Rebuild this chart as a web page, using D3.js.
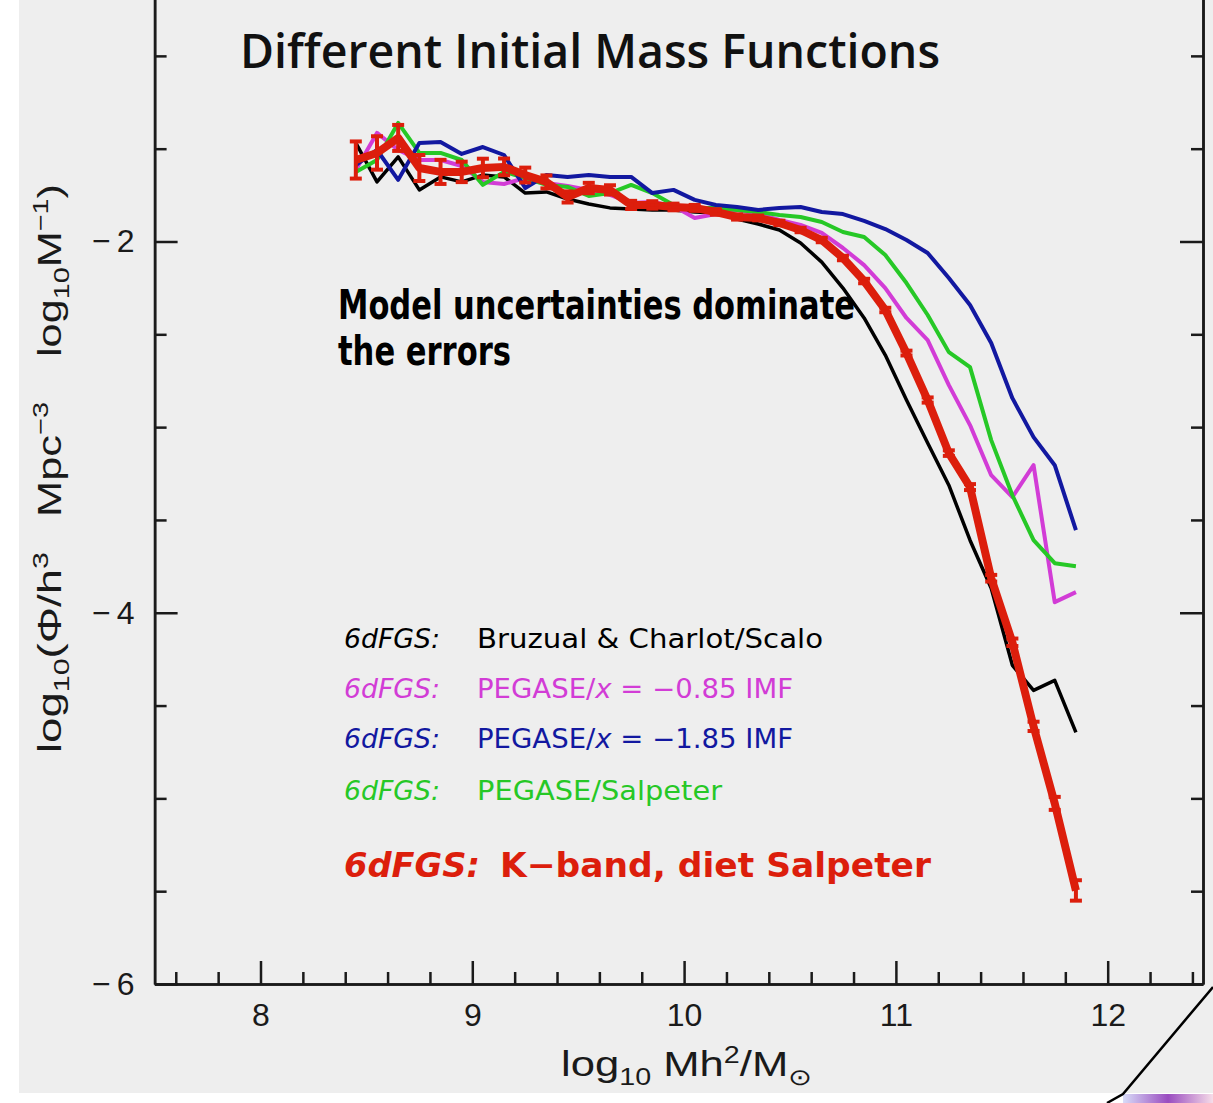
<!DOCTYPE html>
<html>
<head>
<meta charset="utf-8">
<script src="https://cdn.jsdelivr.net/npm/d3@7"></script>
<style>
  html, body { margin: 0; padding: 0; background: #fff; }
  svg { display: block; }
  text { font-family: "Liberation Sans", Arial, sans-serif; }
</style>
</head>
<body>
<svg id="chart" width="1213" height="1103"></svg>
<script>
// 6dFGS stellar mass function for different IMFs
var logMass = [8.45, 8.55, 8.65, 8.75, 8.85, 8.95, 9.05, 9.15, 9.25, 9.35,
  9.45, 9.55, 9.65, 9.75, 9.85, 9.95, 10.05, 10.15, 10.25, 10.35,
  10.45, 10.55, 10.65, 10.75, 10.85, 10.95, 11.05, 11.15, 11.25, 11.35,
  11.45, 11.55, 11.65, 11.75, 11.85];

var phiKband = [-1.561, -1.523, -1.442, -1.604, -1.625, -1.625, -1.604, -1.598, -1.642, -1.679,
  -1.760, -1.712, -1.722, -1.803, -1.803, -1.814, -1.819, -1.841, -1.868, -1.873,
  -1.900, -1.938, -1.992, -2.089, -2.213, -2.369, -2.601, -2.854, -3.140, -3.323,
  -3.814, -4.159, -4.612, -5.027, -5.496];
var errKband = [0.10, 0.09, 0.07, 0.07, 0.065, 0.055, 0.05, 0.045, 0.04, 0.035,
  0.03, 0.028, 0.025, 0.022, 0.02, 0.018, 0.016, 0.015, 0.014, 0.013,
  0.012, 0.012, 0.012, 0.012, 0.012, 0.012, 0.013, 0.014, 0.015, 0.016,
  0.018, 0.02, 0.025, 0.035, 0.055];

var phiBruzual = [-1.469, -1.679, -1.544, -1.722, -1.652, -1.679, -1.642, -1.652, -1.739, -1.733,
  -1.771, -1.798, -1.819, -1.825, -1.830, -1.830, -1.841, -1.846, -1.879, -1.906,
  -1.938, -2.008, -2.111, -2.251, -2.412, -2.612, -2.854, -3.086, -3.313, -3.609,
  -3.868, -4.283, -4.418, -4.364, -4.644];
var phiPegase085 = [-1.615, -1.415, -1.507, -1.561, -1.561, -1.593, -1.679, -1.690, -1.658, -1.685,
  -1.701, -1.722, -1.749, -1.792, -1.787, -1.809, -1.873, -1.852, -1.830, -1.852,
  -1.884, -1.911, -1.954, -2.035, -2.127, -2.251, -2.412, -2.531, -2.774, -2.989,
  -3.259, -3.377, -3.205, -3.943, -3.889];
var phiPegase185 = [-1.588, -1.507, -1.668, -1.469, -1.464, -1.528, -1.491, -1.534, -1.712, -1.642,
  -1.652, -1.642, -1.652, -1.652, -1.739, -1.722, -1.776, -1.803, -1.814, -1.830,
  -1.819, -1.814, -1.841, -1.852, -1.889, -1.933, -1.992, -2.062, -2.197, -2.342,
  -2.547, -2.844, -3.054, -3.205, -3.555];
var phiPegaseSalp = [-1.625, -1.561, -1.361, -1.523, -1.523, -1.561, -1.695, -1.625, -1.658, -1.695,
  -1.706, -1.755, -1.739, -1.695, -1.739, -1.803, -1.819, -1.819, -1.830, -1.841,
  -1.857, -1.868, -1.895, -1.949, -1.976, -2.073, -2.224, -2.396, -2.596, -2.677,
  -3.070, -3.367, -3.609, -3.733, -3.749];

// legend rows (model curves), in the order shown
var modelSeries = [phiBruzual, phiPegase085, phiPegase185, phiPegaseSalp];
var modelNames = ["Bruzual & Charlot/Scalo", "PEGASE/x = \u22120.85  IMF", "PEGASE/x = \u22121.85  IMF", "PEGASE/Salpeter"];
var modelColors = ["#000000", "#d23cd6", "#1218a0", "#26c826"];
var kbandName = "K\u2212band,  diet Salpeter";
var kbandColor = "#dc1e0c";
var surveyName = "6dFGS:";

var xMajorTicks = [8, 9, 10, 11, 12];
var xMinorTicks = [7.6, 7.8, 8.2, 8.4, 8.6, 8.8, 9.2, 9.4, 9.6, 9.8, 10.2, 10.4, 10.6, 10.8,
  11.2, 11.4, 11.6, 11.8, 12.2, 12.4];
var yMajorTicks = [-6, -4, -2];
var yMinorTicks = [-5.5, -5, -4.5, -3.5, -3, -2.5, -1.5, -1];

var svg = d3.select("#chart");

// slide background
svg.append("rect").attr("x", 19).attr("y", 0).attr("width", 1194).attr("height", 1093)
  .attr("fill", "#eeeeee");

var x = d3.scaleLinear().domain([7.5, 12.45]).range([154.6, 1203]);
var y = d3.scaleLinear().domain([-6, -2]).range([984, 241.5]);
var yTop = -0.5;

// axes
function styleAxis(g) {
  g.selectAll(".domain").attr("stroke", "#1a1a1a").attr("stroke-width", 2.5);
  g.selectAll(".tick line").attr("stroke", "#1a1a1a").attr("stroke-width", 2.5);
  g.selectAll(".tick text").attr("fill", "#1a1a1a")
    .style("font-family", "'Liberation Sans', Arial, sans-serif").style("font-size", "32px");
}

var yFull = d3.scaleLinear().domain([-6, yTop]).range([y(-6), y(yTop)]);
var intFormat = d3.format("d");

svg.append("g").attr("transform", "translate(" + x(7.5) + ",0)")
  .call(d3.axisLeft(yFull).tickValues(yMinorTicks).tickSize(-12).tickSizeOuter(0).tickFormat(""))
  .call(styleAxis);
svg.append("g").attr("transform", "translate(" + x(7.5) + ",0)")
  .call(d3.axisLeft(yFull).tickValues(yMajorTicks).tickSize(-23).tickSizeOuter(0).tickPadding(20)
    .tickFormat(intFormat))
  .call(styleAxis)
  .selectAll(".tick text").attr("letter-spacing", "6px").attr("dx", 6);

svg.append("g").attr("transform", "translate(" + x(12.45) + ",0)")
  .call(d3.axisRight(yFull).tickValues(yMinorTicks).tickSize(-12).tickSizeOuter(0).tickFormat(""))
  .call(styleAxis);
svg.append("g").attr("transform", "translate(" + x(12.45) + ",0)")
  .call(d3.axisRight(yFull).tickValues(yMajorTicks).tickSize(-23).tickSizeOuter(0).tickFormat(""))
  .call(styleAxis);

svg.append("g").attr("transform", "translate(0," + y(-6) + ")")
  .call(d3.axisBottom(x).tickValues(xMinorTicks).tickSize(-12).tickSizeOuter(0).tickFormat(""))
  .call(styleAxis);
svg.append("g").attr("transform", "translate(0," + y(-6) + ")")
  .call(d3.axisBottom(x).tickValues(xMajorTicks).tickSize(-23).tickSizeOuter(0).tickPadding(19)
    .tickFormat(intFormat))
  .call(styleAxis);

// curves
var line = d3.line()
  .x(function(d, i) { return x(logMass[i]); })
  .y(function(d) { return y(d); });

var drawOrder = [0, 1, 3, 2];
drawOrder.forEach(function(k) {
  svg.append("path").datum(modelSeries[k])
    .attr("d", line)
    .attr("fill", "none")
    .attr("stroke", modelColors[k])
    .attr("stroke-width", k === 0 ? 3.5 : 4)
    .attr("stroke-linejoin", "round");
});

svg.append("path").datum(phiKband)
  .attr("d", line)
  .attr("fill", "none")
  .attr("stroke", kbandColor)
  .attr("stroke-width", 8)
  .attr("stroke-linejoin", "round");

var bars = svg.append("g").attr("stroke", kbandColor).attr("stroke-width", 4);
bars.selectAll("line.bar").data(phiKband).enter().append("line")
  .attr("class", "bar")
  .attr("x1", function(d, i) { return x(logMass[i]); })
  .attr("x2", function(d, i) { return x(logMass[i]); })
  .attr("y1", function(d, i) { return y(d - errKband[i]); })
  .attr("y2", function(d, i) { return y(d + errKband[i]); });
[1, -1].forEach(function(s) {
  bars.selectAll("line.cap" + s).data(phiKband).enter().append("line")
    .attr("x1", function(d, i) { return x(logMass[i]) - 6; })
    .attr("x2", function(d, i) { return x(logMass[i]) + 6; })
    .attr("y1", function(d, i) { return y(d + s * errKband[i]); })
    .attr("y2", function(d, i) { return y(d + s * errKband[i]); });
});

// title
svg.append("text").attr("x", 240).attr("y", 68)
  .attr("textLength", 700).attr("lengthAdjust", "spacingAndGlyphs")
  .style("font-family", "'Open Sans', 'DejaVu Sans', sans-serif")
  .style("font-weight", 600).style("font-size", "47px").attr("fill", "#111")
  .text("Different Initial Mass Functions");

// annotation
var note = ["Model uncertainties dominate", "the errors"];
var noteLen = [517, 173];
note.forEach(function(t, i) {
  svg.append("text").attr("x", 338).attr("y", 319 + i * 46)
    .attr("textLength", noteLen[i]).attr("lengthAdjust", "spacingAndGlyphs")
    .style("font-family", "'DejaVu Sans', sans-serif").style("font-stretch", "condensed")
    .style("font-weight", "bold").style("font-size", "40px").attr("fill", "#000")
    .text(t);
});

// legend
var legendY = [648, 698, 748, 800];
var legendLen = [346, 316, 316, 245];
modelNames.forEach(function(name, i) {
  svg.append("text").attr("x", 344).attr("y", legendY[i])
    .attr("textLength", 96).attr("lengthAdjust", "spacingAndGlyphs")
    .style("font-family", "'DejaVu Sans', sans-serif").style("font-style", "italic")
    .style("font-size", "26px").attr("fill", modelColors[i])
    .text(surveyName);
  var t = svg.append("text").attr("x", 477).attr("y", legendY[i])
    .attr("textLength", legendLen[i]).attr("lengthAdjust", "spacingAndGlyphs")
    .style("font-family", "'DejaVu Sans', sans-serif")
    .style("font-size", "26px").attr("fill", modelColors[i]);
  var parts = name.split("/x");
  if (parts.length > 1) {
    t.append("tspan").text(parts[0] + "/");
    t.append("tspan").style("font-style", "italic").text("x");
    t.append("tspan").text(parts[1]);
  } else {
    t.text(name);
  }
});

svg.append("text").attr("x", 344).attr("y", 877)
  .attr("textLength", 136).attr("lengthAdjust", "spacingAndGlyphs")
  .style("font-family", "'DejaVu Sans', sans-serif").style("font-style", "italic")
  .style("font-weight", 600).style("font-size", "34px").attr("fill", kbandColor)
  .text(surveyName);
svg.append("text").attr("x", 500).attr("y", 877)
  .attr("textLength", 431).attr("lengthAdjust", "spacingAndGlyphs")
  .style("font-family", "'DejaVu Sans', sans-serif")
  .style("font-weight", 600).style("font-size", "34px").attr("fill", kbandColor)
  .text(kbandName);

// axis titles
var xt = svg.append("text").attr("x", 561).attr("y", 1076)
  .attr("textLength", 251).attr("lengthAdjust", "spacingAndGlyphs")
  .style("font-size", "35px").attr("fill", "#1a1a1a");
xt.append("tspan").text("log");
xt.append("tspan").attr("dy", 9).style("font-size", "23px").text("10");
xt.append("tspan").attr("dy", -9).text(" Mh");
xt.append("tspan").attr("dy", -13).style("font-size", "23px").text("2");
xt.append("tspan").attr("dy", 13).text("/M");
xt.append("tspan").attr("dy", 9).style("font-size", "23px").text("\u2299");

function yTitle(startY, len, pieces) {
  var t = svg.append("text")
    .attr("transform", "translate(61," + startY + ") rotate(-90)")
    .attr("textLength", len).attr("lengthAdjust", "spacingAndGlyphs")
    .style("font-size", "33px").attr("fill", "#1a1a1a");
  pieces.forEach(function(p) {
    var s = t.append("tspan").text(p[0]);
    if (p[1]) s.attr("dy", p[1]);
    if (p[2]) s.style("font-size", p[2]);
  });
}
yTitle(753, 201, [["log"], ["10", 8, "22px"], ["(\u03A6/h", -8], ["3", -13, "22px"]]);
yTitle(517, 115, [["Mpc"], ["\u22123", -13, "22px"]]);
yTitle(357, 173, [["log"], ["10", 8, "22px"], ["M", -8], ["\u22121", -13, "22px"], [")", 13]]);

// slide corner decoration
var grad = svg.append("defs").append("linearGradient").attr("id", "corner");
grad.append("stop").attr("offset", "0%").attr("stop-color", "#d8dcf8");
grad.append("stop").attr("offset", "50%").attr("stop-color", "#9a4cc0");
grad.append("stop").attr("offset", "100%").attr("stop-color", "#f6dce8");
svg.append("rect").attr("x", 1123).attr("y", 1094).attr("width", 90).attr("height", 9)
  .attr("fill", "url(#corner)");
svg.append("polyline").attr("points", "1213,987 1123,1094 1107,1103")
  .attr("fill", "none").attr("stroke", "#000").attr("stroke-width", 2.5);
</script>
</body>
</html>
